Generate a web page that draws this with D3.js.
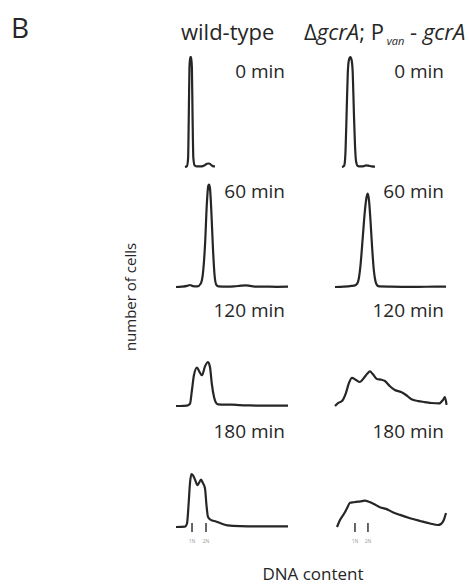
<!DOCTYPE html>
<html lang="en">
<head>
<meta charset="utf-8" />
<title>Flow cytometry profiles</title>
<script src="https://cdn.jsdelivr.net/npm/d3@7"></script>
<style>
  body { margin: 0; background: #fff; }
  svg text { font-family: "Open Sans", "Noto Sans", sans-serif; fill: #262626; }
</style>
</head>
<body>
<div id="chart"></div>
<script>
// column titles, time points and DNA content markers
const timeLabels = ["0 min", "60 min", "120 min", "180 min"];
const ploidyLabels = ["1N", "2N"];
const wtPloidyX = [14.3, 26.8];
const mutPloidyX = [18, 29.7];

// traces: [DNA content (a.u.), relative number of cells]
const wt0 = [[8,0],[9.8,0.8],[10.8,8],[11.4,45],[12,90],[12.6,100],[13.6,100],[14.2,90],[14.8,45],[15.5,8],[16.6,1.5],[19,0.5],[23,0.5],[25.5,1.5],[27.7,3],[29.5,3.2],[31.3,2],[33,0.8],[34.8,0.5]];
const wt60 = [[0,0],[5,0.3],[10,1],[12.5,1.8],[15,0.8],[19,0.5],[22,3],[24,12],[26,40],[27.5,75],[28.8,92],[29.5,93],[30.3,90],[31.5,70],[33,35],[34.5,10],[36,2],[38,0.5],[45,0.3],[52,0.5],[58,1.2],[62,1.5],[66,1],[70,0.4],[80,0.3],[90,0.2],[100,0.3]];
const wt120 = [[0,0],[3.6,0],[9.8,0.3],[12.5,2],[14.3,15],[16,28],[18.8,35],[20.5,32],[23.2,28],[25.9,36],[28.6,40],[30.4,35],[32,20],[34,8],[35.7,3],[37.5,1.5],[43.8,1.2],[50,1.3],[57,0.8],[66,0.5],[79.5,0.3],[100,0.3]];
const wt180 = [[0,0],[8,0.3],[9.8,3],[11.2,20],[12.5,40],[13.8,48],[15.2,47],[17,43],[19.2,38],[20.5,40],[22.3,43],[24,40],[25.9,35],[27.2,20],[28.6,9],[31,6.5],[35.7,5],[41,3],[46,1.5],[57,0.8],[75,0.6],[100,0.6]];

const mut0 = [[6.3,0],[7.5,0.5],[8.5,2],[9.5,15],[10.5,50],[11.5,85],[12.5,97],[13.8,100],[15,97],[16,85],[17,50],[18,20],[19,5],[20.5,1],[23,0.5],[26,0.8],[28,1.5],[30,1.2],[33,0.5],[36,0.3]];
const mut60 = [[0,0],[8,0.3],[15,1],[18,1.5],[20,3],[21.5,8],[23,20],[25,45],[27,70],[28.5,82],[29.5,85],[30.5,80],[32,60],[33.5,35],[35,15],[36.5,5],[38,1.5],[40,0.5],[50,0.3],[60,0.2],[75,0.2],[90,0.3],[100,0.3]];
const mut120 = [[0,0],[2.7,2.7],[6.3,4.5],[9.9,12],[12.6,21],[15.3,25.5],[18.9,23.6],[22.5,21.8],[26,25.5],[28.8,29],[31.5,31.4],[34,29],[37.8,24.5],[41.4,24],[45,22.7],[49.5,18],[54,14.5],[59.5,12.7],[64,10],[68.5,6.4],[75,4.5],[81,3.6],[87,2.7],[93.7,2.3],[97.3,5.5],[99,8],[100.5,1]];
const mut180 = [[1.8,0],[4.5,6.4],[8.1,12],[10.8,17],[13.5,22],[17,22.5],[20.7,23],[24.3,23.5],[27,24],[30.6,23],[35,21],[40.5,18],[46,16.5],[52,13.5],[58.6,11],[67.6,8],[76.6,5.5],[85.6,3.2],[92.8,1.8],[95.5,2.7],[98,6.4],[100,12.7]];

const columns = [
  { traces: [wt0, wt60, wt120, wt180], ploidy: wtPloidyX, x0: 176, x1: 288, labelRight: 285 },
  { traces: [mut0, mut60, mut120, mut180], ploidy: mutPloidyX, x0: 335, x1: 446, labelRight: 444 }
];
const baselines = [167, 287, 406, 527];

const width = 469, height = 587;
const svg = d3.select("#chart").append("svg")
  .attr("width", width).attr("height", height);

svg.append("text").attr("x", 11).attr("y", 38)
  .attr("font-size", 28).text("B");

svg.append("text").attr("x", 181).attr("y", 40)
  .attr("font-size", 22).text("wild-type");

const mutTitle = svg.append("text").attr("x", 304).attr("y", 40).attr("font-size", 22);
mutTitle.append("tspan").text("\u0394");
mutTitle.append("tspan").attr("font-style", "italic").text("gcrA");
mutTitle.append("tspan").text("; P");
mutTitle.append("tspan").attr("font-style", "italic").attr("font-size", 11).attr("dy", 5).text(" van");
mutTitle.append("tspan").attr("dy", -5).text(" - ");
mutTitle.append("tspan").attr("font-style", "italic").text("gcrA");

const y = d3.scaleLinear().domain([0, 100]).range([0, -110]);

columns.forEach(col => {
  const x = d3.scaleLinear().domain([0, 100]).range([col.x0, col.x1]);
  col.traces.forEach((trace, i) => {
    const g = svg.append("g").attr("transform", `translate(0,${baselines[i]})`);
    const line = d3.line()
      .x(d => x(d[0])).y(d => y(d[1]))
      .curve(d3.curveMonotoneX);
    g.append("path").datum(trace)
      .attr("d", line)
      .attr("fill", "none")
      .attr("stroke", "#262626")
      .attr("stroke-width", 2.2)
      .attr("stroke-linejoin", "round");
    g.append("text")
      .attr("x", col.labelRight).attr("y", -89)
      .attr("text-anchor", "end").attr("font-size", 19)
      .text(timeLabels[i]);
    if (i === col.traces.length - 1) {
      g.selectAll("line.ploidy").data(col.ploidy).join("line")
        .attr("class", "ploidy")
        .attr("x1", d => x(d)).attr("x2", d => x(d))
        .attr("y1", -4).attr("y2", 5)
        .attr("stroke", "#333").attr("stroke-width", 1.5);
      g.selectAll("text.ploidy").data(col.ploidy).join("text")
        .attr("class", "ploidy")
        .attr("x", d => x(d)).attr("y", 16)
        .attr("text-anchor", "middle").attr("font-size", 5)
        .style("fill", "#999")
        .text((d, j) => ploidyLabels[j]);
    }
  });
});

svg.append("text")
  .attr("transform", "translate(136,297) rotate(-90)")
  .attr("text-anchor", "middle").attr("font-size", 15)
  .text("number of cells");

svg.append("text").attr("x", 313).attr("y", 580)
  .attr("text-anchor", "middle").attr("font-size", 17)
  .text("DNA content");
</script>
</body>
</html>
